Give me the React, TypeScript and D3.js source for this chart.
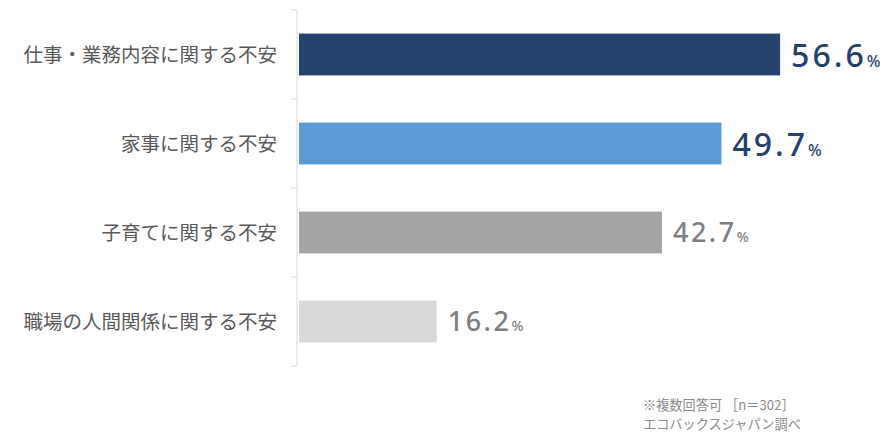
import React from "react";
import * as d3 from "d3";

const categories = [
  "仕事・業務内容に関する不安",
  "家事に関する不安",
  "子育てに関する不安",
  "職場の人間関係に関する不安",
];
const values = [56.6, 49.7, 42.7, 16.2];
const barColors = ["#26426f", "#5b9bd5", "#a5a5a5", "#d9d9d9"];
const labelColors = ["#263f6b", "#263f6b", "#808080", "#808080"];
const labelSizes = [32, 32, 27, 27];
const notes = ["※複数回答可 ［n＝302］", "エコバックスジャパン調べ"];

const W = 894;
const H = 434;
const x0 = 299;
const top = 10;
const bottom = 366;
const font = "'Noto Sans CJK JP', 'Noto Sans', sans-serif";

export default function App() {
  const x = d3.scaleLinear().domain([0, 100]).range([x0, x0 + 850]);
  const y = d3
    .scaleBand<string>()
    .domain(categories)
    .range([top, bottom])
    .paddingInner(0.53)
    .paddingOuter(0.265);
  const step = y.step();
  const ticks = d3.range(categories.length + 1).map((i) => top + i * step);

  return (
    <svg
      width={W}
      height={H}
      style={{ position: "absolute", left: 0, top: 0, background: "#fff" }}
    >
      <line x1={297} x2={297} y1={top} y2={bottom} stroke="#d9d9d9" strokeWidth={1} />
      {ticks.map((t, i) => (
        <line key={i} x1={291} x2={297} y1={t} y2={t} stroke="#d9d9d9" strokeWidth={1} />
      ))}
      {categories.map((c, i) => {
        const yy = y(c)!;
        const bh = y.bandwidth();
        const cy = yy + bh / 2;
        const xe = x(values[i]);
        const fs = labelSizes[i];
        const big = fs > 28;
        return (
          <g key={c}>
            <rect x={x0} y={yy} width={xe - x0} height={bh} fill={barColors[i]} />
            <text
              x={277}
              y={cy + 7}
              textAnchor="end"
              fontFamily={font}
              fontSize={19.5}
              fill="#595959"
            >
              {c}
            </text>
            <text
              x={xe + 11}
              y={cy + (big ? 12 : 9)}
              fontFamily="'Noto Sans', sans-serif"
              fontSize={fs}
              fill={labelColors[i]}
              letterSpacing={big ? 3 : 2.5}
              fontWeight={500}
            >
              {values[i].toFixed(1)}
              <tspan fontSize={big ? 16 : 14} letterSpacing={0}>%</tspan>
            </text>
          </g>
        );
      })}
      {notes.map((n, i) => (
        <text
          key={i}
          x={643}
          y={410 + i * 19}
          fontFamily={font}
          fontSize={13.2}
          fill="#8c8c8c"
        >
          {n}
        </text>
      ))}
    </svg>
  );
}
